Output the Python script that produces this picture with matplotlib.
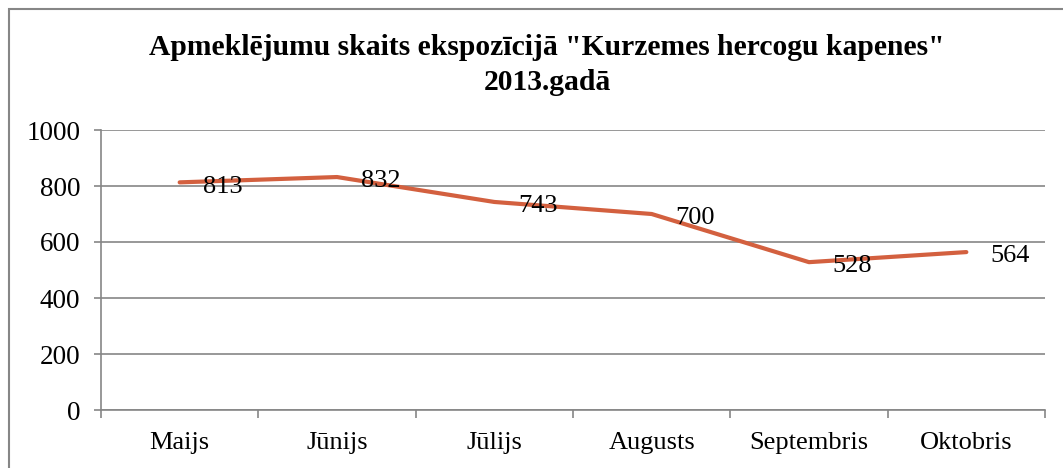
import matplotlib
matplotlib.use("Agg")
import matplotlib.pyplot as plt
from matplotlib.patches import Rectangle

months = ["Maijs", "Jūnijs", "Jūlijs", "Augusts", "Septembris", "Oktobris"]
visits = [813, 832, 743, 700, 528, 564]
yticks = [0, 200, 400, 600, 800, 1000]
title = 'Apmeklējumu skaits ekspozīcijā "Kurzemes hercogu kapenes"\n2013.gadā'

W, H = 1063, 468
fig = plt.figure(figsize=(W / 100, H / 100), dpi=100)
plt.rcParams['font.family'] = ['Liberation Serif', 'DejaVu Serif']

# chart border (cropped on right and bottom)
fig.patches.append(Rectangle((9 / W, -0.1), 1.2, 1 - 9 / H + 0.1, transform=fig.transFigure,
                             fill=False, edgecolor='#868686', linewidth=1.5))

left, right, top, bottom = 101, 1045, 130, 410
ax = fig.add_axes([left / W, 1 - bottom / H, (right - left) / W, (bottom - top) / H])

x = list(range(len(months)))
color = '#D3603F'
ax.plot(x, visits, color=color, linewidth=3.0, solid_capstyle='round', zorder=3)
for xi, v in zip(x, visits):
    ax.annotate(str(v), (xi, v), xytext=(17, -3), textcoords='offset points',
                va='center', ha='left', fontsize=19, zorder=4)

ax.set_xlim(-0.5, len(months) - 0.5)
ax.set_ylim(0, 1000)
ax.set_yticks(yticks)
ax.set_yticklabels([str(t) for t in yticks], fontsize=19.5)
ax.set_xticks(x)
ax.set_xticklabels(months, fontsize=19)
ax.set_xticks([i - 0.5 for i in range(len(months) + 1)], minor=True)
ax.tick_params(axis='x', which='major', length=0, pad=16)
ax.tick_params(axis='x', which='minor', length=6, color='#868686', width=1.2)
ax.tick_params(axis='y', length=5, color='#868686', width=1.2, pad=10)
ax.grid(axis='y', color='#868686', linewidth=1.2)
ax.set_axisbelow(True)
for s in ['top', 'right']:
    ax.spines[s].set_visible(False)
for s in ['left', 'bottom']:
    ax.spines[s].set_color('#868686')
    ax.spines[s].set_linewidth(1.2)

fig.text(547 / W, 1 - 65 / H, title, ha='center', va='center', fontsize=21.3,
         fontweight='bold', linespacing=1.4)

fig.savefig('out.png', dpi=100)
